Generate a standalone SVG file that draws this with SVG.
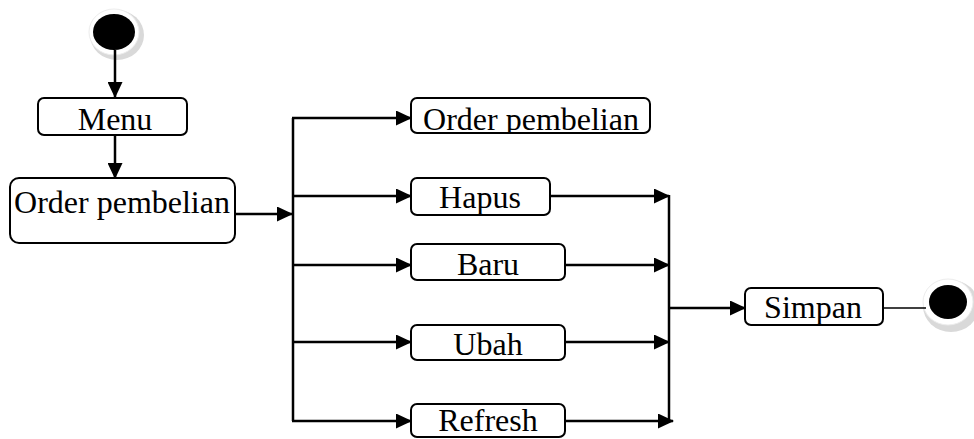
<svg xmlns="http://www.w3.org/2000/svg" width="974" height="439" viewBox="0 0 974 439">
<style>
.box{fill:#fff;stroke:#000;stroke-width:2}
.lbl{font-family:"Liberation Serif","Times New Roman",serif;font-size:32px;fill:#000;text-anchor:middle}
.edge{fill:none;stroke:#000;stroke-width:2.5}
.halo{fill:#d9d9d9}
.ring{fill:#fff;stroke:#ececec;stroke-width:1}
</style>
<defs>
<marker id="arr" markerUnits="userSpaceOnUse" markerWidth="16" markerHeight="15" refX="15" refY="7.5" orient="auto">
<path d="M0,0 L16,7.5 L0,15 z" fill="#000"/>
</marker>
<clipPath id="c1"><rect x="411" y="98" width="239" height="35"/></clipPath>
<clipPath id="c2"><rect x="411" y="178" width="139" height="37"/></clipPath>
<clipPath id="c3"><rect x="745" y="288" width="138" height="37"/></clipPath>
</defs>
<rect width="974" height="439" fill="#fff"/>
<g id="start">
<ellipse class="halo" cx="117" cy="35" rx="27" ry="25"/>
<ellipse class="ring" cx="114" cy="32" rx="25" ry="23"/>
<ellipse cx="114" cy="32" rx="21" ry="18" fill="#000"/>
</g>
<g id="end">
<ellipse class="halo" cx="951" cy="306" rx="28" ry="26"/>
<ellipse class="ring" cx="948" cy="302" rx="25" ry="23"/>
<ellipse cx="948" cy="302" rx="19" ry="17" fill="#000"/>
</g>
<g id="connectors">
<path class="edge" d="M115,50 L115,97" marker-end="url(#arr)"/>
<path class="edge" d="M115,135 L115,178" marker-end="url(#arr)"/>
<path class="edge" d="M235,214 L292,214" marker-end="url(#arr)"/>
<path class="edge" d="M293,118 L293,421"/>
<path class="edge" d="M292,118 L411,118" marker-end="url(#arr)"/>
<path class="edge" d="M292,196 L411,196" marker-end="url(#arr)"/>
<path class="edge" d="M292,265 L411,265" marker-end="url(#arr)"/>
<path class="edge" d="M292,342 L411,342" marker-end="url(#arr)"/>
<path class="edge" d="M292,421 L411,421" marker-end="url(#arr)"/>
<path class="edge" d="M550,196 L669,196" marker-end="url(#arr)"/>
<path class="edge" d="M565,265 L669,265" marker-end="url(#arr)"/>
<path class="edge" d="M565,342 L669,342" marker-end="url(#arr)"/>
<path class="edge" d="M566,421 L673,421" marker-end="url(#arr)"/>
<path class="edge" d="M669,195 L669,419"/>
<path class="edge" d="M669,308 L745,308" marker-end="url(#arr)"/>
<path class="edge" d="M883,308 L926,308" style="stroke-width:1.5"/>
</g>
<g id="menu">
<rect class="box" x="38" y="98" width="149" height="37" rx="6"/>
<text class="lbl" x="115" y="130">Menu</text>
</g>
<g id="order1">
<rect class="box" x="10" y="178" width="225" height="65" rx="9"/>
<text class="lbl" x="122" y="213">Order pembelian</text>
</g>
<g id="order2">
<rect class="box" x="411" y="98" width="239" height="35" rx="6"/>
<text class="lbl" x="531" y="130" clip-path="url(#c1)">Order pembelian</text>
</g>
<g id="hapus">
<rect class="box" x="411" y="178" width="139" height="37" rx="6"/>
<text class="lbl" x="480" y="208" clip-path="url(#c2)">Hapus</text>
</g>
<g id="baru">
<rect class="box" x="411" y="244" width="154" height="36" rx="6"/>
<text class="lbl" x="488" y="275">Baru</text>
</g>
<g id="ubah">
<rect class="box" x="411" y="325" width="154" height="35" rx="6"/>
<text class="lbl" x="488" y="355">Ubah</text>
</g>
<g id="refresh">
<rect class="box" x="411" y="404" width="154" height="33" rx="6"/>
<text class="lbl" x="488" y="431">Refresh</text>
</g>
<g id="simpan">
<rect class="box" x="745" y="288" width="138" height="37" rx="6"/>
<text class="lbl" x="813" y="318" clip-path="url(#c3)">Simpan</text>
</g>
</svg>
